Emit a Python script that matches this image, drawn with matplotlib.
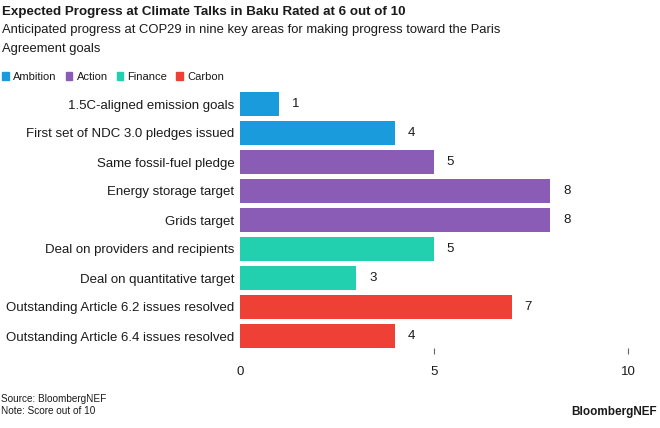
import matplotlib
matplotlib.use('Agg')
import matplotlib.pyplot as plt
from matplotlib.patches import Rectangle

plt.rcParams['font.family'] = ['Liberation Sans', 'DejaVu Sans']

# ── Data ──────────────────────────────────────────────────────────────────────
areas = [
    '1.5C-aligned emission goals',
    'First set of NDC 3.0 pledges issued',
    'Same fossil-fuel pledge',
    'Energy storage target',
    'Grids target',
    'Deal on providers and recipients',
    'Deal on quantitative target',
    'Outstanding Article 6.2 issues resolved',
    'Outstanding Article 6.4 issues resolved',
]
scores = [1, 4, 5, 8, 8, 5, 3, 7, 4]
groups = ['Ambition', 'Ambition', 'Action', 'Action', 'Action',
          'Finance', 'Finance', 'Carbon', 'Carbon']
group_names = ['Ambition', 'Action', 'Finance', 'Carbon']
x_ticks = [0, 5, 10]

COLORS = {
    'Ambition': '#1A9BDB',
    'Action':   '#8A5CB5',
    'Finance':  '#22CFAE',
    'Carbon':   '#EE4035',
}
TEXT = '#1a1a1a'

def px(x, y):
    """pixel coords (top-left origin) -> figure fraction"""
    return x / 660, 1 - y / 428

fig = plt.figure(figsize=(6.6, 4.28), dpi=100)
# 29 px per row, ylim runs to 8.4 so tick marks sit right under the last bar
ax = fig.add_axes([240 / 660, 1 - 347.6 / 428, 388 / 660, 258.1 / 428])

ypos = list(range(len(areas)))
ax.barh(ypos, scores, height=0.8, color=[COLORS[g] for g in groups])
ax.set_ylim(len(areas) - 0.6, -0.5)
ax.set_xlim(0, 10)

for y, v in zip(ypos, scores):
    ax.text(v + 0.33, y, str(v), va='center', ha='left', fontsize=9.5, color=TEXT)

ax.set_yticks(ypos)
ax.set_yticklabels(areas, fontsize=9.5, color=TEXT)
ax.tick_params(axis='y', length=0, pad=4)
ax.set_xticks(x_ticks)
ax.set_xticklabels([str(t) for t in x_ticks], fontsize=9.5, color=TEXT)
ax.tick_params(axis='x', length=4.5, width=0.8, color='#666666', pad=8.5, direction='out')
ax.xaxis.get_major_ticks()[0].tick1line.set_visible(False)
for s in ax.spines.values():
    s.set_visible(False)

# ── Titles ────────────────────────────────────────────────────────────────────
fig.text(*px(2, 12), 'Expected Progress at Climate Talks in Baku Rated at 6 out of 10',
         fontsize=9.6, fontweight='bold', color=TEXT, va='center', ha='left')
fig.text(*px(2, 30), 'Anticipated progress at COP29 in nine key areas for making progress toward the Paris',
         fontsize=9.4, color=TEXT, va='center', ha='left')
fig.text(*px(2, 49), 'Agreement goals',
         fontsize=9.4, color=TEXT, va='center', ha='left')

# legend
x = 2
for name in group_names:
    fig.patches.append(Rectangle(px(x, 80), 6.5 / 660, 7.5 / 428,
                                 transform=fig.transFigure, color=COLORS[name]))
    t = fig.text(*px(x + 11, 76.5), name, fontsize=8.0, color=TEXT,
                 va='center', ha='left')
    fig.canvas.draw()
    bb = t.get_window_extent()
    x = bb.x1 + 9

# ── Footer ────────────────────────────────────────────────────────────────────
fig.text(*px(1, 399.5), 'Source: BloombergNEF', fontsize=7.2, color=TEXT, va='center', ha='left')
fig.text(*px(1, 411.5), 'Note: Score out of 10', fontsize=7.2, color=TEXT, va='center', ha='left')
fig.text(*px(657, 412), 'BloombergNEF', fontsize=8.5, fontweight='bold',
         color=TEXT, va='center', ha='right')

fig.savefig('out.png', dpi=100, facecolor='white')
